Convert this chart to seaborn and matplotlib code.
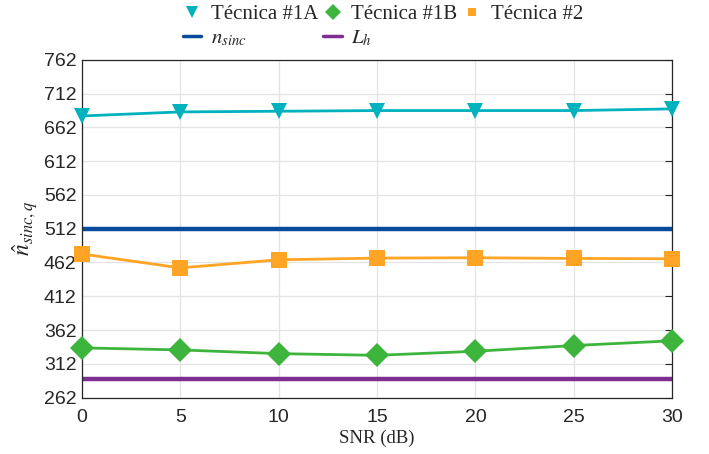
import numpy as np
import pandas as pd
import matplotlib.pyplot as plt
import seaborn as sns
from matplotlib.lines import Line2D

snr = [0, 5, 10, 15, 20, 25, 30]
tec_1a = [679, 685, 686, 687, 687, 687, 689.5]
tec_1b = [335.5, 332.5, 327, 324.5, 330.5, 339, 346]
tec_2 = [474.5, 454, 466, 468.5, 469, 468, 467.5]
n_sinc = 512
l_h = 289
yticks = [262, 312, 362, 412, 462, 512, 562, 612, 662, 712, 762]

names = ["Técnica #1A", "Técnica #1B", "Técnica #2"]
df = pd.DataFrame({
    "SNR": snr * 3,
    "valor": tec_1a + tec_1b + tec_2,
    "serie": [n for n in names for _ in snr],
})

colors = {"Técnica #1A": "#00B2BD", "Técnica #1B": "#3DB53D", "Técnica #2": "#FFA424"}
markers = {"Técnica #1A": "v", "Técnica #1B": "D", "Técnica #2": "s"}

sns.set_style("whitegrid")
plt.rcParams["font.family"] = ["Liberation Sans", "DejaVu Sans"]
plt.rcParams["mathtext.fontset"] = "stix"

fig = plt.figure(figsize=(7.09, 4.54), dpi=100)
ax = fig.add_axes([0.1157, 0.1244, 0.8323, 0.7436])

sns.lineplot(data=df, x="SNR", y="valor", hue="serie", style="serie",
             palette=colors, markers=markers, dashes=False, linewidth=2,
             markersize=12, markeredgewidth=0, ax=ax, legend=False)
for ln in ax.lines:
    ln.set_clip_on(False)
    ln.set_zorder(3)
ax.axhline(n_sinc, color="#0A4A9C", lw=3.2, zorder=1.5)
ax.axhline(l_h, color="#7E2E8E", lw=3.2, zorder=1.5)

ax.set_xlim(0, 30)
ax.set_ylim(262, 762)
ax.set_xticks(snr)
ax.set_yticks(yticks)
ax.tick_params(direction="in", length=5, width=0.8, labelsize=14,
               colors="#262626", right=True, top=False, pad=4)
ax.tick_params(axis="x", pad=8)
ax.grid(True, color="#E3E3E3", lw=0.9)
for s in ax.spines.values():
    s.set_color("#262626")
    s.set_linewidth(0.9)
ax.set_xlabel("SNR (dB)", family="Liberation Serif", fontsize=13.5, labelpad=3)
ax.set_ylabel(r"$\hat{n}_{sinc,q}$", fontsize=17, labelpad=3)

hs = [Line2D([], [], color=colors[n], marker=markers[n], lw=0,
             markersize=8 if n != "Técnica #2" else 6, markeredgewidth=0) for n in names]
l_nsinc = Line2D([], [], color="#0A4A9C", lw=2.5)
l_lh = Line2D([], [], color="#7E2E8E", lw=2.5)
handles = [hs[0], l_nsinc, hs[1], l_lh, hs[2]]
labels = ["Técnica #1A", r"$n_{sinc}$", "Técnica #1B", r"$L_h$", "Técnica #2"]
fig.legend(handles, labels, ncol=3, loc="upper center", bbox_to_anchor=(0.54, 1.032),
           frameon=False, prop={"family": "Liberation Serif", "size": 15},
           handlelength=0.9, handletextpad=0.45, columnspacing=0.25, labelspacing=0.25)

fig.savefig("out.png", dpi=100)
